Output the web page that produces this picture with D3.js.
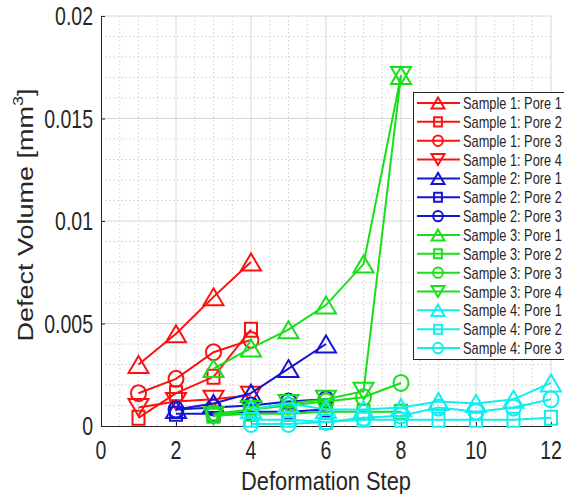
<!DOCTYPE html>
<html><head><meta charset="utf-8">
<script src="https://cdn.jsdelivr.net/npm/d3@7"></script>
<style>body{margin:0;background:#fff}svg{display:block}</style>
</head><body>
<svg id="c" width="564" height="494"></svg>
<script>
// ---- data ----
const steps1 = [1, 2, 3, 4];
const s1p1 = [0.0030, 0.0045, 0.0063, 0.0080];
const s1p2 = [0.0004, 0.0016, 0.0024, 0.0047];
const s1p3 = [0.0016, 0.0023, 0.0036, 0.0042];
const s1p4 = [0.0009, 0.0012, 0.0013, 0.0015];
const steps2 = [2, 3, 4, 5, 6];
const s2p1 = [0.0008, 0.0011, 0.0016, 0.0028, 0.0040];
const s2p2 = [0.0006, 0.0006, 0.0007, 0.0007, 0.0008];
const s2p3 = [0.0008, 0.0009, 0.0010, 0.0012, 0.0013];
const steps3 = [3, 4, 5, 6, 7, 8];
const s3p1 = [0.0028, 0.0038, 0.0047, 0.0059, 0.0079, 0.0171];
const s3p2 = [0.0005, 0.0006, 0.0006, 0.0007, 0.0007, 0.0007];
const s3p3 = [0.0006, 0.0008, 0.0010, 0.0012, 0.0014, 0.0021];
const s3p4 = [0.0005, 0.0008, 0.0011, 0.0013, 0.0017, 0.0171];
const steps4 = [4, 5, 6, 7, 8, 9, 10, 11, 12];
const s4p1 = [0.0008, 0.0011, 0.0008, 0.0008, 0.0009, 0.0012, 0.0011, 0.0013, 0.0021];
const s4p2 = [0.0003, 0.0003, 0.0002, 0.0003, 0.0003, 0.0003, 0.0003, 0.0003, 0.0004];
const s4p3 = [0.0001, 0.0001, 0.0002, 0.0004, 0.0005, 0.0009, 0.0007, 0.0009, 0.0013];
const seriesNames = ["Sample 1: Pore 1","Sample 1: Pore 2","Sample 1: Pore 3","Sample 1: Pore 4",
  "Sample 2: Pore 1","Sample 2: Pore 2","Sample 2: Pore 3",
  "Sample 3: Pore 1","Sample 3: Pore 2","Sample 3: Pore 3","Sample 3: Pore 4",
  "Sample 4: Pore 1","Sample 4: Pore 2","Sample 4: Pore 3"];
const xTicks = [0, 2, 4, 6, 8, 10, 12];
const yTicks = [0, 0.005, 0.01, 0.015, 0.02];
const yTickLabels = ["0", "0.005", "0.01", "0.015", "0.02"];

const RED = "#ff1010", BLUE = "#1414d2", GREEN = "#18e018", CYAN = "#10eeee";
const series = [
  {x: steps1, y: s1p1, c: RED, m: "tu"},
  {x: steps1, y: s1p2, c: RED, m: "sq"},
  {x: steps1, y: s1p3, c: RED, m: "ci"},
  {x: steps1, y: s1p4, c: RED, m: "td"},
  {x: steps2, y: s2p1, c: BLUE, m: "tu"},
  {x: steps2, y: s2p2, c: BLUE, m: "sq"},
  {x: steps2, y: s2p3, c: BLUE, m: "ci"},
  {x: steps3, y: s3p1, c: GREEN, m: "tu"},
  {x: steps3, y: s3p2, c: GREEN, m: "sq"},
  {x: steps3, y: s3p3, c: GREEN, m: "ci"},
  {x: steps3, y: s3p4, c: GREEN, m: "td"},
  {x: steps4, y: s4p1, c: CYAN, m: "tu"},
  {x: steps4, y: s4p2, c: CYAN, m: "sq"},
  {x: steps4, y: s4p3, c: CYAN, m: "ci"}
];
series.forEach((s, i) => s.name = seriesNames[i]);

// ---- layout ----
const L = 101, R = 551, T = 16, B = 426;
const FONT = "'Liberation Sans', Arial, Helvetica, sans-serif";
const svg = d3.select("#c");
const x = d3.scaleLinear().domain([0, 12]).range([L, R]);
const y = d3.scaleLinear().domain([0, 0.02]).range([B, T]);

// grid minor
const g = svg.append("g");
g.selectAll("line.mx").data(d3.range(0, 12.01, 0.5).filter(v => v % 2 !== 0))
  .enter().append("line").attr("x1", d => x(d)).attr("x2", d => x(d)).attr("y1", T).attr("y2", B)
  .attr("stroke", "#cfcfcf").attr("stroke-width", 1).attr("stroke-dasharray", "1.5,2.5");
g.selectAll("line.my").data(d3.range(0, 0.02001, 0.001).filter((v, i) => i % 5 !== 0))
  .enter().append("line").attr("y1", d => y(d)).attr("y2", d => y(d)).attr("x1", L).attr("x2", R)
  .attr("stroke", "#cfcfcf").attr("stroke-width", 1).attr("stroke-dasharray", "1.5,2.5");
// grid major
g.selectAll("line.Mx").data(xTicks.slice(1)).enter().append("line")
  .attr("x1", d => x(d)).attr("x2", d => x(d)).attr("y1", T).attr("y2", B)
  .attr("stroke", "#d6d6d6").attr("stroke-width", 1);
g.selectAll("line.My").data(yTicks.slice(1)).enter().append("line")
  .attr("y1", d => y(d)).attr("y2", d => y(d)).attr("x1", L).attr("x2", R)
  .attr("stroke", "#d6d6d6").attr("stroke-width", 1);

// axes
const xAxis = d3.axisBottom(x).tickValues(xTicks).tickSize(-4).tickFormat("");
const yAxis = d3.axisLeft(y).tickValues(yTicks).tickSize(-4).tickFormat("");
const gx = svg.append("g").attr("transform", `translate(0,${B})`).call(xAxis);
const gy = svg.append("g").attr("transform", `translate(${L},0)`).call(yAxis);
[gx, gy].forEach(a => { a.select(".domain").attr("stroke", "#262626"); a.selectAll(".tick line").attr("stroke", "#262626"); });

// tick labels
xTicks.forEach(v => {
  svg.append("text").attr("transform", `translate(${x(v)},${B + 33}) scale(0.75,1)`)
    .attr("text-anchor", "middle").attr("font-family", FONT).attr("font-size", 26).attr("fill", "#262626").text(v);
});
yTicks.forEach((v, i) => {
  svg.append("text").attr("transform", `translate(${L - 8},${y(v) + 9}) scale(0.75,1)`)
    .attr("text-anchor", "end").attr("font-family", FONT).attr("font-size", 26).attr("fill", "#262626").text(yTickLabels[i]);
});
// axis titles
svg.append("text").attr("transform", `translate(${(L + R) / 2},${490}) scale(0.84,1)`)
  .attr("text-anchor", "middle").attr("font-family", FONT).attr("font-size", 26).attr("fill", "#262626").text("Deformation Step");
const yl = svg.append("text").attr("transform", `translate(33,${(T + B) / 2 - 6}) rotate(-90) scale(1,0.83)`)
  .attr("text-anchor", "middle").attr("font-family", FONT).attr("font-size", 27).attr("fill", "#262626");
yl.append("tspan").text("Defect Volume [mm");
yl.append("tspan").attr("font-size", 18).attr("dy", -12).text("3");
yl.append("tspan").attr("dy", 12).text("]");

// markers
function markerPath(m, k) {
  if (m === "tu") return `M0,${-8.5*k} L${10*k},${8.5*k} L${-10*k},${8.5*k} Z`;
  if (m === "td") return `M0,${8.5*k} L${10*k},${-8.5*k} L${-10*k},${-8.5*k} Z`;
  if (m === "sq") return `M${-6*k},${-7*k} h${12*k} v${14*k} h${-12*k} Z`;
  const rx = 7.5*k, ry = 8*k;
  return `M${-rx},0 A${rx},${ry} 0 1,0 ${rx},0 A${rx},${ry} 0 1,0 ${-rx},0 Z`;
}
const line = d3.line().x(d => x(d[0])).y(d => y(d[1]));
const plot = svg.append("g");
series.forEach(s => {
  const pts = s.x.map((v, i) => [v, s.y[i]]);
  const gs = plot.append("g");
  gs.append("path").attr("d", line(pts)).attr("fill", "none").attr("stroke", s.c).attr("stroke-width", 2);
  gs.selectAll("path.mk").data(pts).enter().append("path")
    .attr("transform", d => `translate(${x(d[0])},${y(d[1])})`)
    .attr("d", markerPath(s.m, 1)).attr("fill", "none").attr("stroke", s.c).attr("stroke-width", 2);
});

// legend
const lg = svg.append("g");
const LX = 413, LY = 92, LW = 160, LH = 267;
lg.append("rect").attr("x", LX + 0.5).attr("y", LY + 0.5).attr("width", LW).attr("height", LH)
  .attr("fill", "#fff").attr("stroke", "#262626").attr("stroke-width", 1);
series.forEach((s, i) => {
  const cy = 103 + i * 18.85;
  lg.append("line").attr("x1", 417).attr("x2", 460).attr("y1", cy).attr("y2", cy).attr("stroke", s.c).attr("stroke-width", 2);
  lg.append("path").attr("transform", `translate(438,${cy})`).attr("d", markerPath(s.m, 0.65))
    .attr("fill", "none").attr("stroke", s.c).attr("stroke-width", 2);
  lg.append("text").attr("transform", `translate(463,${cy + 6}) scale(0.8,1)`)
    .attr("font-family", FONT).attr("font-size", 16).attr("fill", "#262626").text(s.name);
});
</script>
</body></html>
